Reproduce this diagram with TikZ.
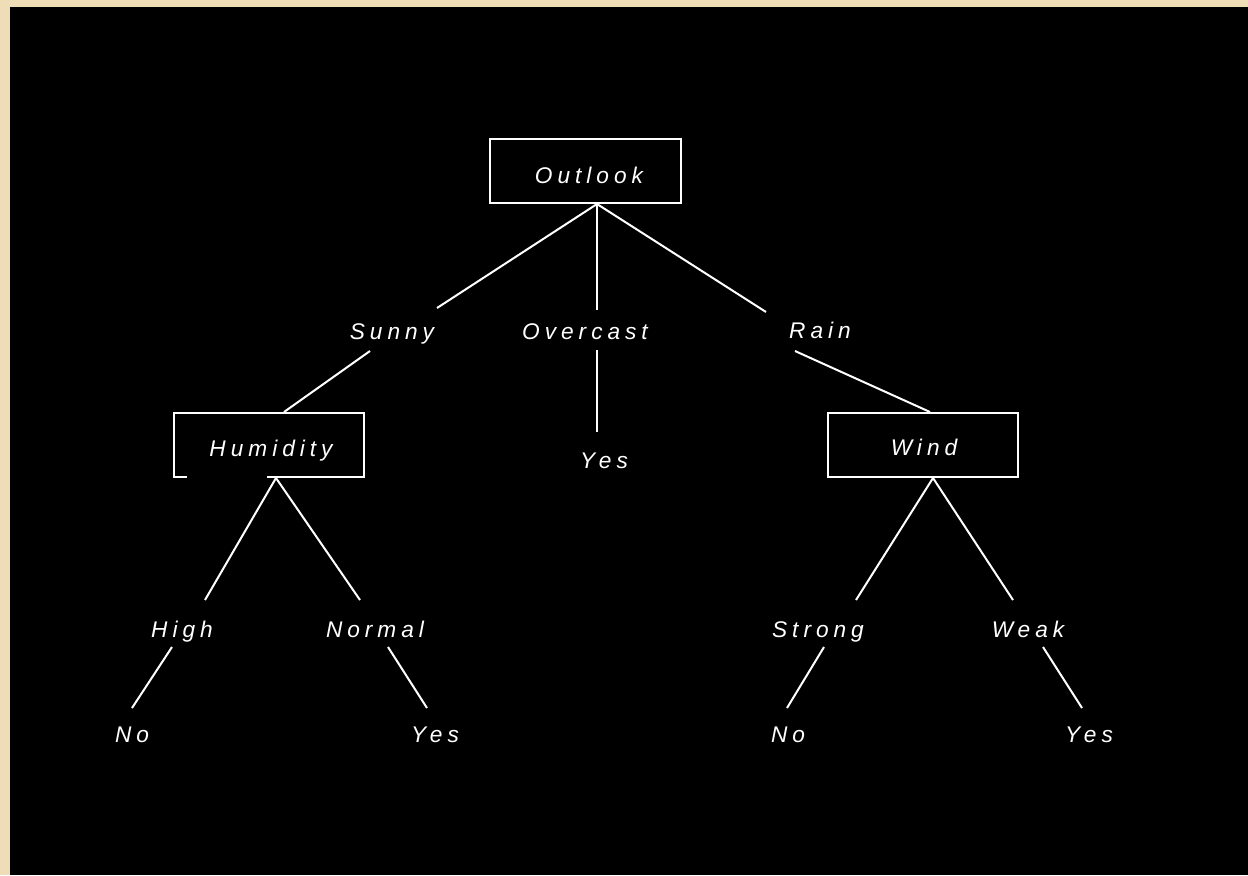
\documentclass[tikz,border=0pt]{standalone}
\usepackage{fontspec}
\setmainfont{Liberation Sans}
\newfontfamily\lblfont[LetterSpace=22]{Liberation Sans}
\definecolor{parch}{HTML}{EEDDB6}
\begin{document}
\begin{tikzpicture}[x=0.75pt,y=-0.75pt,
  lbl/.style={text=white,font=\lblfont\itshape\fontsize{17}{20}\selectfont,inner sep=0pt,anchor=base},
  edge/.style={draw=white,line width=1.5pt},
  boxline/.style={draw=white,line width=1.5pt}]
\useasboundingbox (0,0) rectangle (1248,875);
\fill[parch] (0,0) rectangle (1248,875);
\fill[black] (10,7) rectangle (1248,875);
% boxes
\node[boxline,minimum width=143.25pt,minimum height=48pt,inner sep=0pt] (outbox) at (585.5,171) {};
\node[boxline,minimum width=142.5pt,minimum height=48pt,inner sep=0pt] (windbox) at (922.5,445) {};
\draw[boxline] (187,477) -- (174,477) -- (174,413) -- (364,413) -- (364,477) -- (267,477);
% labels
\node[lbl] (outlook) at (589,183) {Outlook};
\node[lbl] (sunny) at (392,339) {Sunny};
\node[lbl] (overcast) at (585,339) {Overcast};
\node[lbl] (rain) at (820,338) {Rain};
\node[lbl] (humidity) at (271,456) {Humidity};
\node[lbl] (yes1) at (604,468) {Yes};
\node[lbl] (wind) at (924,455) {Wind};
\node[lbl] (high) at (182,637) {High};
\node[lbl] (normal) at (375,637) {Normal};
\node[lbl] (no1) at (132,742) {No};
\node[lbl] (yes2) at (435,742) {Yes};
\node[lbl] (strong) at (818,637) {Strong};
\node[lbl] (weak) at (1028,637) {Weak};
\node[lbl] (no2) at (788,742) {No};
\node[lbl] (yes3) at (1089,742) {Yes};
% connector end points
\coordinate (o-b) at (597,204);
\coordinate (sun-t) at (437,308);
\coordinate (ovc-t) at (597,310);
\coordinate (rain-t) at (766,312);
\coordinate (sun-b) at (370,351);
\coordinate (hum-t) at (284,412);
\coordinate (ovc-b) at (597,350);
\coordinate (yes1-t) at (597,432);
\coordinate (rain-b) at (795,351);
\coordinate (wind-t) at (930,412);
\coordinate (hum-b) at (276,478);
\coordinate (high-t) at (205,600);
\coordinate (norm-t) at (360,600);
\coordinate (high-b) at (172,647);
\coordinate (no1-t) at (132,708);
\coordinate (norm-b) at (388,647);
\coordinate (yes2-t) at (427,708);
\coordinate (wind-b) at (933,478);
\coordinate (str-t) at (856,600);
\coordinate (weak-t) at (1013,600);
\coordinate (str-b) at (824,647);
\coordinate (no2-t) at (787,708);
\coordinate (weak-b) at (1043,647);
\coordinate (yes3-t) at (1082,708);
% connectors
\draw[edge] (o-b) -- (sun-t);
\draw[edge] (o-b) -- (ovc-t);
\draw[edge] (o-b) -- (rain-t);
\draw[edge] (sun-b) -- (hum-t);
\draw[edge] (ovc-b) -- (yes1-t);
\draw[edge] (rain-b) -- (wind-t);
\draw[edge] (hum-b) -- (high-t);
\draw[edge] (hum-b) -- (norm-t);
\draw[edge] (high-b) -- (no1-t);
\draw[edge] (norm-b) -- (yes2-t);
\draw[edge] (wind-b) -- (str-t);
\draw[edge] (wind-b) -- (weak-t);
\draw[edge] (str-b) -- (no2-t);
\draw[edge] (weak-b) -- (yes3-t);
\end{tikzpicture}
\end{document}
